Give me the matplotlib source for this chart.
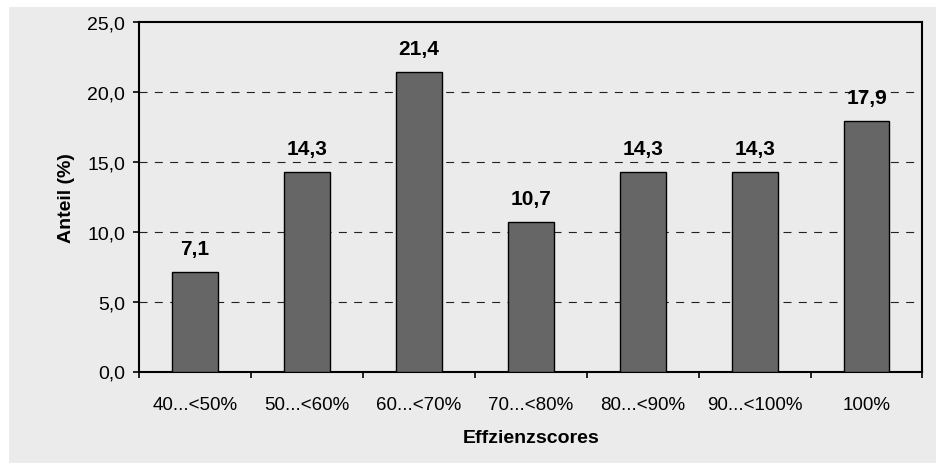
import matplotlib.pyplot as plt
import matplotlib.patches as patches
from matplotlib.ticker import FixedLocator, FuncFormatter

plt.rcParams['font.family'] = ['Liberation Sans', 'DejaVu Sans']

# Verteilung der Effizienzscores
kategorien = ["40...<50%", "50...<60%", "60...<70%", "70...<80%",
              "80...<90%", "90...<100%", "100%"]
anteil = [7.1, 14.3, 21.4, 10.7, 14.3, 14.3, 17.9]
y_ticks = [0, 5, 10, 15, 20, 25]

grau_hg = "#ebebeb"

fig = plt.figure(figsize=(9.37, 4.64), dpi=100)
fig.patch.set_facecolor("white")
# grauer Hintergrund-Kasten
fig.patches.append(patches.Rectangle((9 / 937, 0), 1, 1 - 8 / 464,
                                     transform=fig.transFigure,
                                     facecolor=grau_hg, edgecolor="none",
                                     zorder=-10))

ax = fig.add_axes([139 / 937, 1 - 372.5 / 464, (922.5 - 139) / 937, (372.5 - 23) / 464])
ax.set_facecolor(grau_hg)

x = list(range(len(kategorien)))
ax.bar(x, anteil, width=0.41, color="#666666", edgecolor="black",
       linewidth=1.0, zorder=3)

for xi, wert in zip(x, anteil):
    ax.annotate(f"{wert:.1f}".replace(".", ","), (xi, wert),
                xytext=(0, 10), textcoords="offset points",
                ha="center", va="bottom", fontsize=15, fontweight="bold")

ax.set_xlim(-0.5, len(kategorien) - 0.5)
ax.set_ylim(0, 25)
ax.set_yticks(y_ticks)
ax.yaxis.set_major_formatter(FuncFormatter(lambda v, p: f"{v:.1f}".replace(".", ",")))
for yv in y_ticks[1:-1]:
    ax.axhline(yv, color="#222222", linewidth=0.8,
               linestyle=(0, (7.2, 6.6)), zorder=1)

ax.set_xticks(x)
ax.set_xticklabels(kategorien)
ax.xaxis.set_minor_locator(FixedLocator([i - 0.5 for i in range(len(kategorien) + 1)]))
ax.tick_params(axis="x", which="major", length=0, pad=18, labelsize=13.5)
ax.tick_params(axis="x", which="minor", length=4, width=1.2, direction="out")
ax.tick_params(axis="y", length=4, width=1.2, direction="out", pad=6, labelsize=14)

for s in ax.spines.values():
    s.set_linewidth(1.5)
    s.set_color("black")

ax.set_ylabel("Anteil (%)", fontsize=14, fontweight="bold", labelpad=9)
ax.set_xlabel("Effzienzscores", fontsize=14, fontweight="bold", labelpad=11)

fig.savefig("out.png", dpi=100)
